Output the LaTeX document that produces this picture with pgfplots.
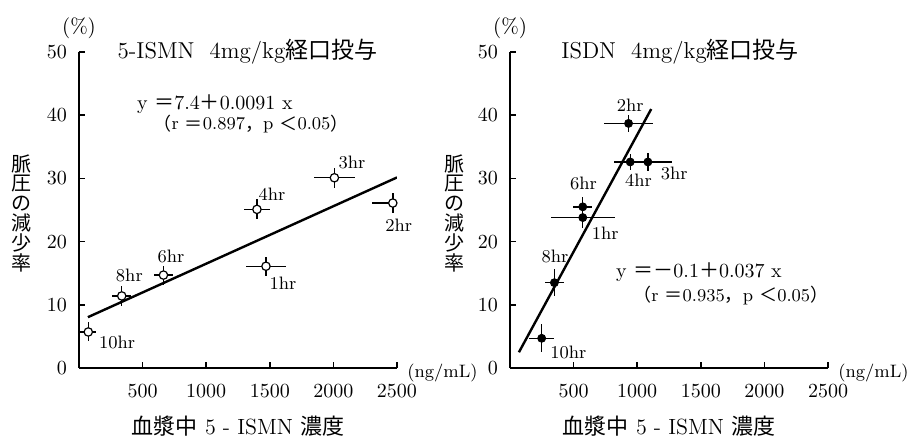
\documentclass[border=0pt]{standalone}
\usepackage{fontspec}
\usepackage{pgfplots}
\usepackage{pgfplotstable}
\pgfplotsset{compat=1.18}
\newfontfamily\cjk{Noto Sans CJK JP}

\pgfplotstableread{
x y ex ey
73 5.7 63 1.5
336 11.4 75 1.6
664 14.7 72 1.5
1470 16.1 160 1.5
1399 25.1 100 1.6
2008 30.1 164 1.6
2467 26.1 165 1.6
}\leftdata

\pgfplotstableread{
x y ex ey
249 4.7 100 2.2
349 13.5 72 2.1
572 23.8 253 1.6
572 25.5 75 1.5
932 38.7 193 1.3
945 32.6 131 1.3
1084 32.6 190 1.4
}\rightdata

\pgfplotsset{
  myaxis/.style={
    scale only axis, width=159pt, height=158pt,
    anchor=south west,
    xmin=0, xmax=2500, ymin=0, ymax=50,
    axis lines=left, axis line style={-, line width=0.8pt},
    xtick={500,1000,...,2500}, ytick={0,10,...,50},
    tick align=inside, major tick length=3pt,
    tick style={black, line width=0.8pt},
    tick label style={font=\fontsize{10}{11}\selectfont},
    xticklabel style={yshift=-5pt, /pgf/number format/1000 sep={}},
    yticklabel style={xshift=-2.5pt},
    clip mode=individual,
  },
}
\tikzset{lbl/.style={font=\fontsize{9}{10}\selectfont},
  eq/.style={font=\fontsize{10}{11}\selectfont, anchor=west, inner sep=0pt},
  eqb/.style={font=\fontsize{9}{10}\selectfont, anchor=west, inner sep=0pt}}

\begin{document}
\begin{tikzpicture}
\useasboundingbox (0,0) rectangle (454.5pt,218.5pt);

% ---------------- left panel
\begin{axis}[myaxis, at={(39.5pt,34.5pt)}]
\addplot[black, line width=1.2pt] coordinates {(70,8.04) (2500,30.15)};
\addplot[black, only marks, mark=*, mark size=2.1pt,
  mark options={fill=white, draw=black, line width=0.6pt},
  error bars/.cd, x dir=both, x explicit, y dir=both, y explicit,
  error mark=none, error bar style={line width=0.7pt, black}]
  table[x=x, y=y, x error=ex, y error=ey] {\leftdata};
\node[lbl] at (axis cs:299,4.0) {10hr};
\node[lbl] at (axis cs:396,14.6) {8hr};
\node[lbl] at (axis cs:724,17.6) {6hr};
\node[lbl] at (axis cs:1604,13.4) {1hr};
\node[lbl] at (axis cs:1517,27.5) {4hr};
\node[lbl] at (axis cs:2147,32.5) {3hr};
\node[lbl] at (axis cs:2514,22.6) {2hr};
\node[eq] at (axis cs:454,41.7)
  {y {\cjk ＝}7.4{\cjk ＋}0.0091 x};
\node[eqb] at (axis cs:583,38.6)
  {{\cjk （}r {\cjk ＝}0.897{\cjk ，}p {\cjk ＜}0.05{\cjk ）}};
\node[font=\fontsize{11.5}{13}\selectfont] at (rel axis cs:0.53,1)
  {5-ISMN\ \ 4mg/kg{\cjk 経口投与}};
\node[font=\fontsize{10.5}{12}\selectfont] at (rel axis cs:0,1) [yshift=12pt] {(\%)};
\node[font=\fontsize{9}{11}\selectfont, anchor=west, inner sep=0pt] at (rel axis cs:1,0) [xshift=5pt, yshift=-2.5pt] {(ng/mL)};
\node[font={\cjk\fontsize{10}{9.9}\selectfont}, align=center] at (rel axis cs:0,0.49) [xshift=-28.5pt]
  {脈\\圧\\の\\減\\少\\率};
\node[font=\fontsize{11}{13}\selectfont] at (rel axis cs:0.5,0) [yshift=-29pt]
  {{\cjk 血漿中} 5 - ISMN {\cjk 濃度}};
\end{axis}

% ---------------- right panel
\begin{axis}[myaxis, at={(255pt,34.5pt)}]
\addplot[black, line width=1.2pt] coordinates {(70,2.49) (1110,40.97)};
\addplot[black, only marks, mark=*, mark size=2pt,
  mark options={fill=black, draw=black},
  error bars/.cd, x dir=both, x explicit, y dir=both, y explicit,
  error mark=none, error bar style={line width=0.7pt, black}]
  table[x=x, y=y, x error=ex, y error=ey] {\rightdata};
\node[lbl] at (axis cs:459,2.4) {10hr};
\node[lbl] at (axis cs:354,17.6) {8hr};
\node[lbl] at (axis cs:577,29.2) {6hr};
\node[lbl] at (axis cs:748,21.3) {1hr};
\node[lbl] at (axis cs:1010,29.7) {4hr};
\node[lbl] at (axis cs:1291,30.8) {3hr};
\node[lbl] at (axis cs:945,41.5) {2hr};
\node[eq] at (axis cs:832,15.2)
  {y {\cjk ＝－}0.1{\cjk ＋}0.037 x};
\node[eqb] at (axis cs:966,11.5)
  {{\cjk （}r {\cjk ＝}0.935{\cjk ，}p {\cjk ＜}0.05{\cjk ）}};
\node[font=\fontsize{11.5}{13}\selectfont] at (rel axis cs:0.535,1)
  {ISDN\ \ 4mg/kg{\cjk 経口投与}};
\node[font=\fontsize{10.5}{12}\selectfont] at (rel axis cs:0,1) [yshift=12pt] {(\%)};
\node[font=\fontsize{9}{11}\selectfont, anchor=west, inner sep=0pt] at (rel axis cs:1,0) [xshift=5pt, yshift=-2.5pt] {(ng/mL)};
\node[font={\cjk\fontsize{10}{9.9}\selectfont}, align=center] at (rel axis cs:0,0.49) [xshift=-28pt]
  {脈\\圧\\の\\減\\少\\率};
\node[font=\fontsize{11}{13}\selectfont] at (rel axis cs:0.5,0) [yshift=-29pt]
  {{\cjk 血漿中} 5 - ISMN {\cjk 濃度}};
\end{axis}
\end{tikzpicture}
\end{document}
